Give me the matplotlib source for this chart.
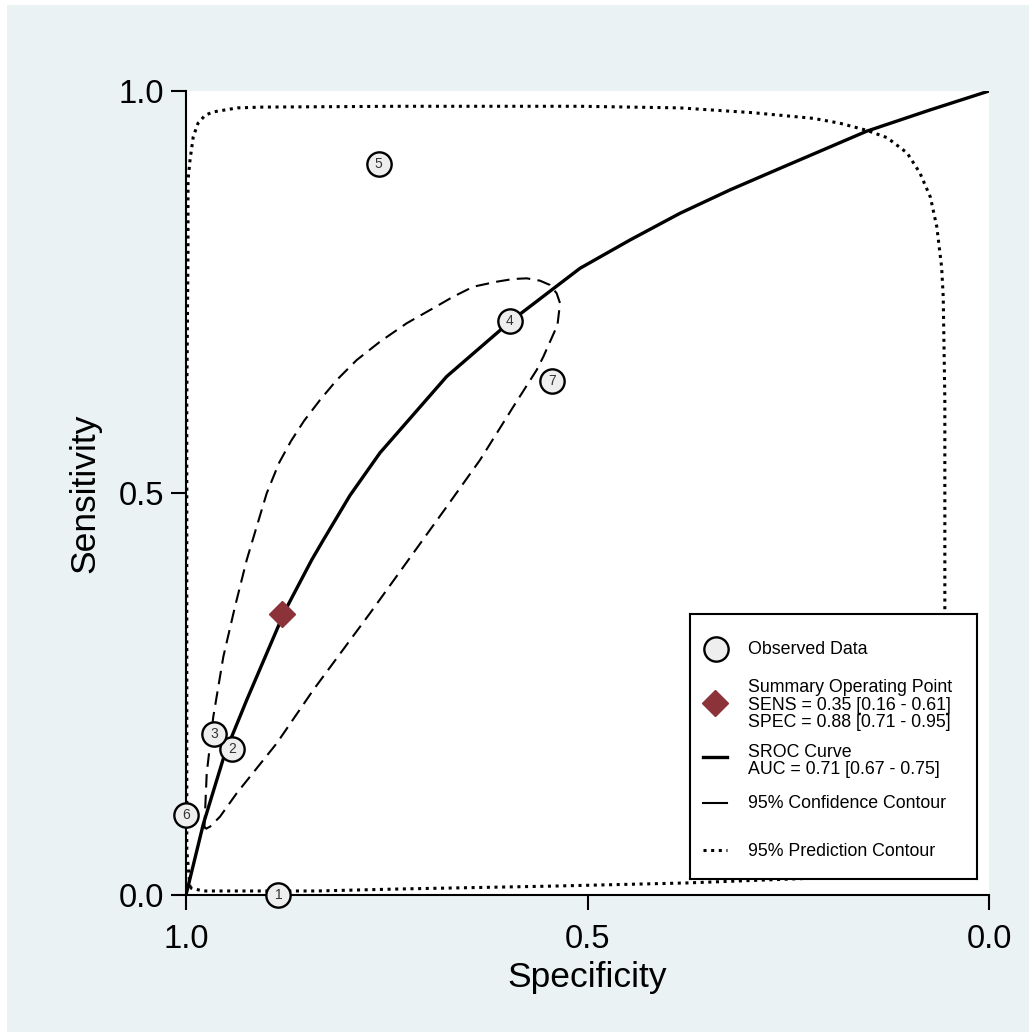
import matplotlib
matplotlib.use("Agg")
import matplotlib.pyplot as plt
from matplotlib.patches import Rectangle

plt.rcParams['font.family'] = ['Liberation Sans', 'DejaVu Sans']

# individual studies (specificity, sensitivity)
study_ids = ['1', '2', '3', '4', '5', '6', '7']
study_spec = [0.885, 0.943, 0.965, 0.597, 0.760, 1.000, 0.544]
study_sens = [0.000, 0.182, 0.200, 0.714, 0.909, 0.100, 0.639]

# summary operating point
summ_spec = 0.88
summ_sens = 0.35

# SROC curve
sroc_spec = [1.000, 0.9785, 0.9514, 0.9244, 0.877, 0.8435, 0.829, 0.7958,
             0.7584, 0.6753, 0.5965, 0.5093, 0.447, 0.3848, 0.3225, 0.2603,
             0.1523, 0.0735, 0.000]
sroc_sens = [0.000, 0.088, 0.1766, 0.2425, 0.353, 0.4167, 0.4415, 0.497,
             0.550, 0.645, 0.713, 0.7795, 0.8147, 0.8479, 0.877, 0.9038,
             0.950, 0.9764, 1.000]

# 95% confidence contour
conf_spec = [0.9757, 0.9770, 0.9742, 0.9660, 0.9535, 0.9390, 0.9244, 0.9120,
             0.8995, 0.8842, 0.8692, 0.8531, 0.8331, 0.8123, 0.7874, 0.7584,
             0.7252, 0.6961, 0.6671, 0.6422, 0.6131, 0.5924, 0.5757, 0.5592,
             0.5467, 0.5384, 0.5342, 0.5374, 0.5550, 0.5633, 0.5924, 0.6131,
             0.6339, 0.6753, 0.7709, 0.8415, 0.8870, 0.9369, 0.9577, 0.9701,
             0.9757]
conf_sens = [0.0821, 0.0858, 0.1514, 0.2218, 0.2964, 0.3586, 0.4167, 0.4581,
             0.4996, 0.5373, 0.5647, 0.5896, 0.6157, 0.6405, 0.6654, 0.6882,
             0.7111, 0.7276, 0.7442, 0.7566, 0.7628, 0.7662, 0.7670, 0.7641,
             0.7587, 0.7484, 0.7360, 0.7090, 0.6695, 0.6530, 0.6073, 0.5742,
             0.5410, 0.4830, 0.3504, 0.2550, 0.1887, 0.1265, 0.0974, 0.0850,
             0.0821]

# 95% prediction contour
pred_spec = [0.995, 0.999, 0.999, 0.999, 0.9975, 0.9975, 0.995, 0.991, 0.985,
             0.976, 0.966, 0.936, 0.904, 0.734, 0.509, 0.385, 0.294, 0.219,
             0.186, 0.152, 0.127, 0.102, 0.086, 0.073, 0.065, 0.059, 0.057,
             0.055, 0.055, 0.056, 0.067, 0.111, 0.376, 0.547, 0.734, 0.837,
             0.979, 0.995]
pred_sens = [0.009, 0.056, 0.367, 0.616, 0.802, 0.889, 0.914, 0.943, 0.960,
             0.970, 0.974, 0.979, 0.980, 0.981, 0.981, 0.979, 0.973, 0.966,
             0.960, 0.951, 0.942, 0.923, 0.898, 0.868, 0.831, 0.781, 0.744,
             0.616, 0.342, 0.118, 0.044, 0.025, 0.015, 0.011, 0.0075, 0.005,
             0.005, 0.009]

W, H = 1029, 1032
fig = plt.figure(figsize=(W / 100, H / 100), dpi=100, facecolor='white')
fig.patches.append(Rectangle((7 / W, 0), 1 - 7 / W, 1 - 5 / H,
                             transform=fig.transFigure, facecolor='#eaf2f3',
                             edgecolor='none', zorder=-5))

ax = fig.add_axes([186 / W, 1 - 895 / H, 803 / W, 804 / H])
ax.set_facecolor('white')
ax.set_xlim(1, 0)
ax.set_ylim(0, 1)
for s in ['top', 'right']:
    ax.spines[s].set_visible(False)
for s in ['left', 'bottom']:
    ax.spines[s].set_linewidth(1.5)
ax.set_xticks([1.0, 0.5, 0.0])
ax.set_yticks([0.0, 0.5, 1.0])
ax.set_xticklabels(['1.0', '0.5', '0.0'])
ax.set_yticklabels(['0.0', '0.5', '1.0'])
ax.tick_params(axis='both', length=11, width=1.5, labelsize=23.5, direction='out')
ax.tick_params(axis='x', pad=10)
ax.tick_params(axis='y', pad=5)
ax.set_xlabel('Specificity', fontsize=25.5, labelpad=4)
ax.set_ylabel('Sensitivity', fontsize=25.5, labelpad=12)

ax.plot(pred_spec, pred_sens, color='black', lw=2.2, linestyle=(0, (1, 1.5)),
        zorder=2)
ax.plot(conf_spec, conf_sens, color='black', lw=1.5, linestyle=(0, (6.5, 3.5)),
        solid_joinstyle='round', zorder=2)
ax.plot(sroc_spec, sroc_sens, color='black', lw=2.4, solid_capstyle='round',
        solid_joinstyle='round', zorder=3)

ax.plot(study_spec, study_sens, linestyle='none', marker='o', markersize=17.5,
        markerfacecolor='#eeeeee', markeredgecolor='black', markeredgewidth=1.7,
        clip_on=False, zorder=4)
for sid, x, y in zip(study_ids, study_spec, study_sens):
    ax.text(x, y, sid, ha='center', va='center', fontsize=10, color='#333333',
            zorder=5, clip_on=False)

ax.plot([summ_spec], [summ_sens], linestyle='none', marker='D', markersize=13,
        color='#8c3339', zorder=5)

# legend panel
lg = fig.add_axes([690 / W, 1 - 879 / H, 287 / W, 265 / H], zorder=10)
lg.set_xlim(0, 287)
lg.set_ylim(265, 0)
lg.set_xticks([])
lg.set_yticks([])
lg.set_facecolor('white')
for s in lg.spines.values():
    s.set_linewidth(1.5)

fs = 12.8
tx = 58
lg.plot([26], [35], marker='o', markersize=17.5, markerfacecolor='#eeeeee',
        markeredgecolor='black', markeredgewidth=1.7)
lg.text(tx, 35, 'Observed Data', va='center', fontsize=fs)

lg.plot([25], [89], marker='D', markersize=13, color='#8c3339')
lg.text(tx, 91, 'Summary Operating Point\nSENS = 0.35 [0.16 - 0.61]\n'
        'SPEC = 0.88 [0.71 - 0.95]', va='center', fontsize=fs,
        linespacing=1.05)

lg.plot([13, 37], [143, 143], color='black', lw=2.4)
lg.text(tx, 147, 'SROC Curve\nAUC = 0.71 [0.67 - 0.75]', va='center',
        fontsize=fs, linespacing=1.05)

lg.plot([13, 37], [189, 189], color='black', lw=1.5)
lg.text(tx, 190, '95% Confidence Contour', va='center', fontsize=fs)

lg.plot([13, 37], [236, 236], color='black', lw=2.2, linestyle=(0, (1, 1.5)))
lg.text(tx, 237, '95% Prediction Contour', va='center', fontsize=fs)

fig.savefig('out.png', dpi=100, facecolor=fig.get_facecolor())
